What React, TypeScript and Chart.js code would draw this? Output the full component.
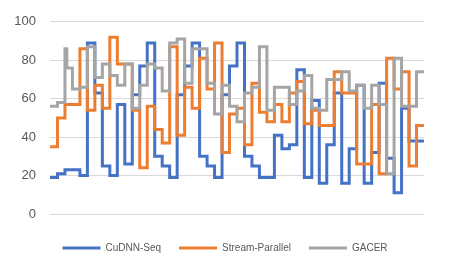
import React, { useEffect, useRef } from 'react';
import { Chart, registerables } from 'chart.js';

Chart.register(...registerables);

// ---- data ----
const seriesNames = ['CuDNN-Seq', 'Stream-Parallel', 'GACER'];

const cudnnSeq = [
  19, 21, 23, 23, 20, 89, 63, 25, 20, 57,
  26, 62, 77, 89, 30, 25, 19, 62, 77, 89,
  30, 25, 19, 62, 77, 89, 30, 25, 19, 19,
  41, 34, 36, 75, 19, 59, 16, 36, 63, 16,
  34, 67, 16, 32, 68, 29, 11, 55, 38, 38,
];

const streamParallel = [
  35, 50, 57, 57, 86, 54, 67, 55, 92, 78,
  78, 54, 24, 56, 44, 37, 87, 41, 66, 55,
  81, 65, 89, 32, 52, 55, 36, 68, 53, 48,
  57, 48, 63, 69, 47, 54, 46, 46, 74, 63,
  63, 26, 26, 57, 21, 81, 65, 74, 25, 46,
];

const gacer = [
  56, 58, 76, 65, 66, 87, 71, 78, 72, 67,
  78, 55, 67, 78, 76, 64, 89, 91, 68, 86,
  86, 68, 52, 67, 56, 48, 63, 66, 87, 54,
  66, 66, 57, 64, 72, 55, 54, 70, 70, 74,
  64, 67, 55, 67, 57, 21, 81, 56, 56, 74,
];

// short burst at the start of a slot before settling on the slot value
const gacerSpikes = [{ slot: 2, peak: 86, span: 0.25 }];

const yTicks = [0, 20, 40, 60, 80, 100];

const colors = ['#4472C4', '#ED7D31', '#A5A5A5'];

type Spike = { slot: number; peak: number; span: number };

function stepPoints(values: number[], spikes: Spike[] = []) {
  const pts: { x: number; y: number }[] = [];
  values.forEach((v, i) => {
    const s = spikes.find((sp) => sp.slot === i);
    if (s) {
      pts.push({ x: i, y: s.peak });
      pts.push({ x: i + s.span, y: v });
    } else {
      pts.push({ x: i, y: v });
    }
  });
  pts.push({ x: values.length, y: values[values.length - 1] });
  return pts;
}

export default function App() {
  const ref = useRef<HTMLCanvasElement>(null);

  useEffect(() => {
    if (!ref.current) return;
    Chart.defaults.font.family = "'Liberation Sans', Arial, sans-serif";
    const common = {
      stepped: true as const,
      borderWidth: 3,
      pointRadius: 0,
      pointHoverRadius: 0,
      fill: false,
      borderJoinStyle: 'miter' as const,
      borderCapStyle: 'butt' as const,
      tension: 0,
    };
    const chart = new Chart(ref.current, {
      type: 'line',
      data: {
        datasets: [
          {
            ...common,
            label: seriesNames[0],
            data: stepPoints(cudnnSeq),
            borderColor: colors[0],
            backgroundColor: colors[0],
            order: 3,
          },
          {
            ...common,
            label: seriesNames[1],
            data: stepPoints(streamParallel),
            borderColor: colors[1],
            backgroundColor: colors[1],
            order: 2,
          },
          {
            ...common,
            label: seriesNames[2],
            data: stepPoints(gacer, gacerSpikes),
            borderColor: colors[2],
            backgroundColor: colors[2],
            order: 1,
          },
        ],
      },
      options: {
        responsive: false,
        animation: false,
        layout: { padding: { top: 21, right: 7, bottom: 14, left: 0 } },
        plugins: {
          tooltip: { enabled: false },
          legend: {
            position: 'bottom',
            labels: {
              usePointStyle: true,
              pointStyle: 'line',
              pointStyleWidth: 38,
              boxWidth: 38,
              padding: 18,
              color: '#595959',
              font: { size: 10 },
              sort: (a: any, b: any) => a.datasetIndex - b.datasetIndex,
            },
          },
        },
        scales: {
          x: {
            type: 'linear',
            min: 0,
            max: cudnnSeq.length,
            grid: { display: false },
            border: { display: false },
            ticks: { display: false },
            afterFit: (s: any) => {
              s.height = 11;
            },
          },
          y: {
            min: 0,
            max: 100,
            afterBuildTicks: (s: any) => {
              s.ticks = yTicks.map((v) => ({ value: v }));
            },
            grid: { color: '#D9D9D9', lineWidth: 1, drawTicks: false },
            border: { display: false },
            ticks: { padding: 14, color: '#595959', font: { size: 13 } },
            afterFit: (s: any) => {
              s.width = 50;
            },
          },
          yR: {
            position: 'right',
            grid: { display: false },
            border: { display: false },
            ticks: { display: false },
            afterFit: (s: any) => {
              s.width = 26;
            },
          },
        },
      },
    });
    return () => chart.destroy();
  }, []);

  return (
    <div style={{ position: 'absolute', left: 0, top: 0, width: 457, height: 277 }}>
      <canvas ref={ref} width={457} height={277} style={{ display: 'block' }} />
    </div>
  );
}
